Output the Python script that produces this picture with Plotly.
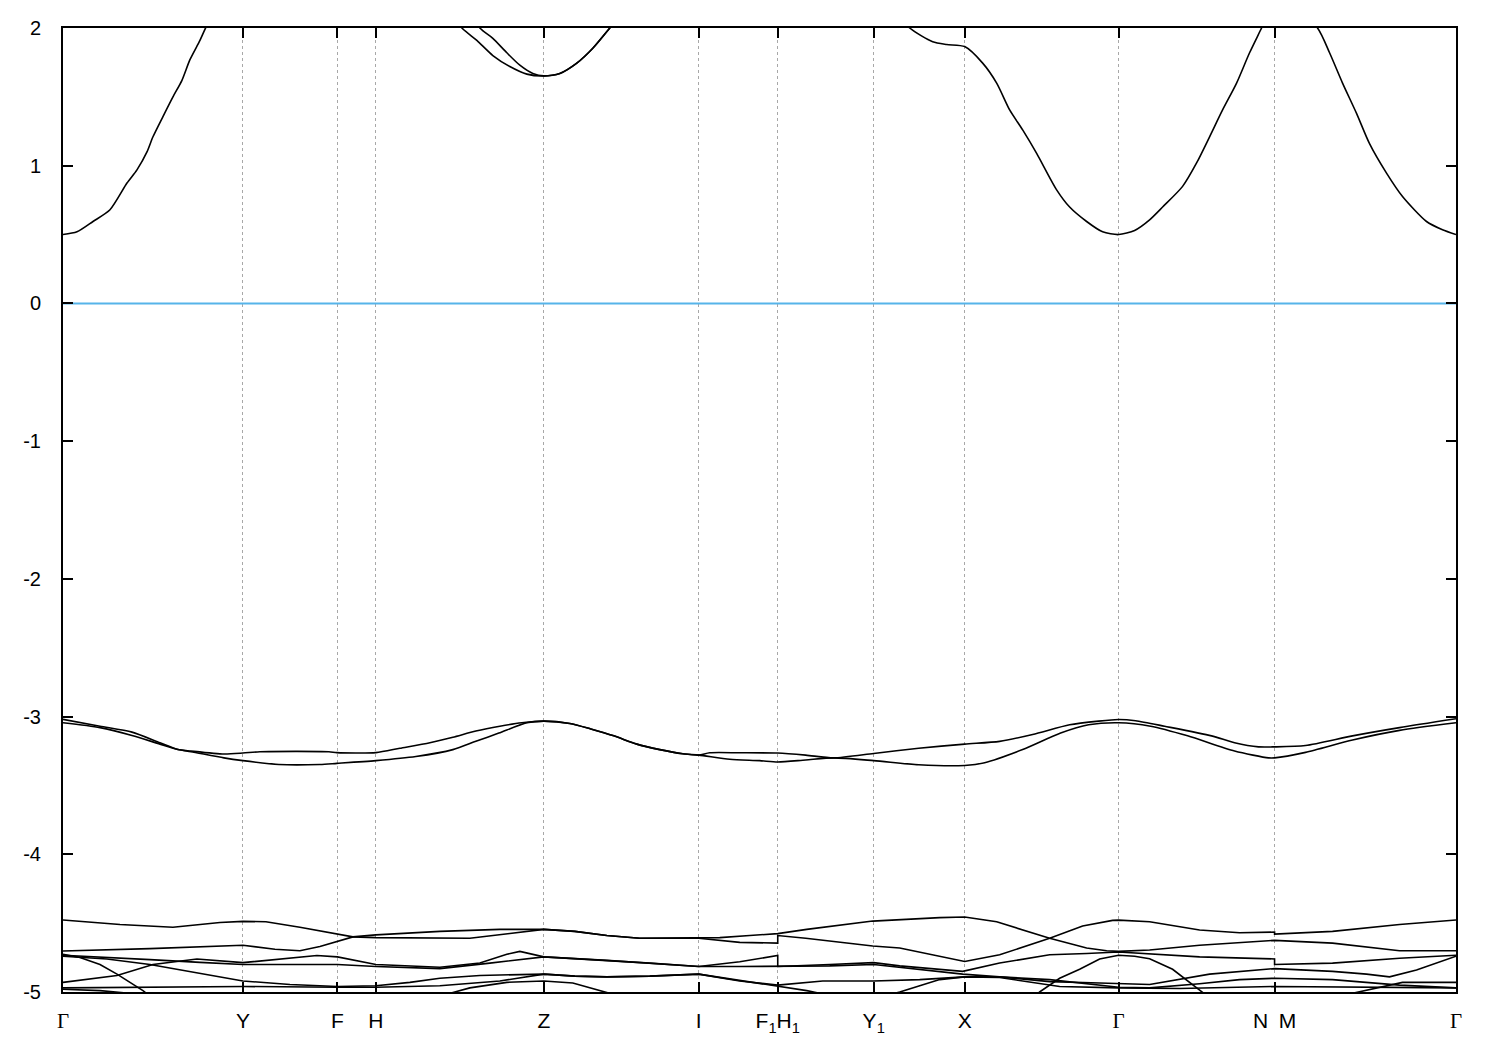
import plotly.graph_objects as go

# ---- high-symmetry path ----
tick_k = [0.0, 0.180, 0.2745, 0.313, 0.481, 0.636, 0.715, 0.811, 0.902, 1.056, 1.212, 1.3935]
GAM = '<span style="font-family:Liberation Serif">Γ</span>'
tick_labels = [GAM, "Y", "F", "H", "Z", "I", "F<sub>1</sub>H<sub>1</sub>", "Y<sub>1</sub>",
               "X", GAM, "N\u2002M", GAM]
y_ticks = [-5, -4, -3, -2, -1, 0, 1, 2]

# ---- Fermi level ----
fermi_k = [0.0, 1.3935]
fermi_e = [0.0, 0.0]

# ---- conduction bands ----
cb1_k = [0.000, 0.014, 0.030, 0.047, 0.064, 0.074, 0.084, 0.090, 0.100, 0.110, 0.119, 0.127, 0.137, 0.142,
         0.160, 0.180, 0.2745, 0.313, 0.360, 0.399, 0.414, 0.430, 0.447, 0.464, 0.481, 0.497, 0.514, 0.530,
         0.547, 0.590, 0.636, 0.715, 0.715, 0.811, 0.847, 0.870, 0.884, 0.902, 0.920, 0.934, 0.947, 0.960,
         0.974, 0.994, 1.007, 1.024, 1.040, 1.056, 1.072, 1.087, 1.100, 1.120, 1.134, 1.147, 1.160, 1.174,
         1.187, 1.199, 1.212, 1.212, 1.255, 1.267, 1.280, 1.294, 1.307, 1.324, 1.340, 1.364, 1.380, 1.3935]
cb1_e = [0.50, 0.52, 0.595, 0.68, 0.874, 0.97, 1.10, 1.21, 1.357, 1.50, 1.62, 1.77, 1.91, 1.99,
         2.25, 2.45, 2.70, 2.65, 2.35, 2.00, 1.91, 1.80, 1.72, 1.665, 1.652, 1.67, 1.745, 1.853,
         2.00, 2.35, 2.60, 2.70, 2.70, 2.30, 2.00, 1.90, 1.88, 1.865, 1.745, 1.60, 1.405, 1.26,
         1.09, 0.825, 0.70, 0.595, 0.52, 0.50, 0.53, 0.607, 0.70, 0.85, 1.02, 1.21, 1.405, 1.60,
         1.82, 2.00, 2.20, 2.30, 2.00, 1.82, 1.60, 1.38, 1.16, 0.946, 0.776, 0.595, 0.535, 0.50]

cb2_k = [0.360, 0.417, 0.430, 0.444, 0.457, 0.470, 0.481, 0.497, 0.514, 0.530, 0.547, 0.600]
cb2_e = [2.60, 2.00, 1.925, 1.82, 1.73, 1.67, 1.652, 1.67, 1.745, 1.853, 2.00, 2.50]

# ---- valence bands near -3 eV ----
vb1_k = [0.000, 0.037, 0.069, 0.097, 0.115, 0.128, 0.161, 0.180, 0.197, 0.266, 0.274, 0.313, 0.337, 0.367,
         0.390, 0.413, 0.437, 0.459, 0.481, 0.507, 0.528, 0.551, 0.574, 0.597, 0.620, 0.636, 0.647, 0.677,
         0.715, 0.743, 0.771, 0.811, 0.856, 0.902, 0.937, 0.970, 1.007, 1.036, 1.056, 1.073, 1.102, 1.149,
         1.172, 1.196, 1.212, 1.243, 1.290, 1.337, 1.3935]
vb1_e = [-3.020, -3.070, -3.113, -3.190, -3.239, -3.250, -3.272, -3.265, -3.255, -3.255, -3.262, -3.262,
         -3.230, -3.190, -3.150, -3.105, -3.070, -3.045, -3.033, -3.050, -3.090, -3.140, -3.200, -3.240,
         -3.270, -3.280, -3.263, -3.263, -3.265, -3.280, -3.300, -3.268, -3.230, -3.200, -3.180, -3.130,
         -3.060, -3.033, -3.021, -3.030, -3.070, -3.140, -3.190, -3.220, -3.220, -3.210, -3.140, -3.080,
         -3.016]

vb2_k = [0.000, 0.037, 0.069, 0.097, 0.115, 0.128, 0.161, 0.180, 0.216, 0.257, 0.274, 0.313, 0.353, 0.390,
         0.413, 0.436, 0.464, 0.481, 0.507, 0.528, 0.551, 0.574, 0.597, 0.620, 0.636, 0.667, 0.697, 0.715,
         0.743, 0.771, 0.811, 0.856, 0.902, 0.922, 0.960, 0.998, 1.026, 1.056, 1.088, 1.125, 1.172, 1.206,
         1.212, 1.243, 1.290, 1.337, 1.3935]
vb2_e = [-3.045, -3.080, -3.137, -3.200, -3.239, -3.255, -3.300, -3.320, -3.348, -3.348, -3.340, -3.320,
         -3.290, -3.240, -3.180, -3.120, -3.045, -3.033, -3.050, -3.090, -3.140, -3.200, -3.240, -3.270,
         -3.280, -3.310, -3.320, -3.330, -3.315, -3.300, -3.320, -3.350, -3.355, -3.335, -3.240, -3.120,
         -3.060, -3.045, -3.070, -3.140, -3.250, -3.300, -3.300, -3.260, -3.170, -3.100, -3.045]

# ---- lower band cluster (-4.4 .. -5 eV) ----
lb1_k = [0.000, 0.057, 0.110, 0.157, 0.180, 0.203, 0.237, 0.274, 0.290, 0.313, 0.377, 0.407, 0.447, 0.481,
         0.512, 0.544, 0.577, 0.636, 0.657, 0.687, 0.715, 0.715, 0.744, 0.810, 0.877, 0.902, 0.934, 0.957,
         0.987, 1.024, 1.044, 1.056, 1.087, 1.137, 1.212, 1.212, 1.270, 1.337, 1.3935]
lb1_e = [-4.477, -4.510, -4.530, -4.495, -4.487, -4.490, -4.530, -4.575, -4.600, -4.605, -4.610, -4.610,
         -4.575, -4.545, -4.560, -4.590, -4.610, -4.610, -4.605, -4.590, -4.580, -4.576, -4.545, -4.485,
         -4.460, -4.455, -4.490, -4.540, -4.610, -4.680, -4.700, -4.705, -4.695, -4.660, -4.625, -4.625,
         -4.645, -4.700, -4.700]

lb2_k = [0.000, 0.087, 0.180, 0.212, 0.237, 0.257, 0.290, 0.313, 0.377, 0.437, 0.481, 0.512, 0.544, 0.577,
         0.636, 0.677, 0.715, 0.715, 0.743, 0.810, 0.837, 0.877, 0.902, 0.937, 0.987, 1.020, 1.050, 1.056,
         1.087, 1.137, 1.177, 1.212, 1.212, 1.270, 1.337, 1.3935]
lb2_e = [-4.702, -4.685, -4.660, -4.690, -4.700, -4.670, -4.600, -4.585, -4.560, -4.545, -4.545, -4.560,
         -4.590, -4.610, -4.610, -4.640, -4.645, -4.590, -4.610, -4.666, -4.680, -4.740, -4.778, -4.730,
         -4.610, -4.520, -4.480, -4.478, -4.490, -4.550, -4.570, -4.565, -4.580, -4.560, -4.510, -4.477]

lb3_k = [0.000, 0.017, 0.037, 0.054, 0.080, 0.092]
lb3_e = [-4.726, -4.750, -4.800, -4.870, -4.990, -5.060]

lb4_k = [0.967, 0.977, 0.997, 1.017, 1.037, 1.056, 1.072, 1.087, 1.110, 1.140, 1.152]
lb4_e = [-5.060, -5.000, -4.900, -4.835, -4.760, -4.733, -4.740, -4.758, -4.835, -5.000, -5.070]

lb5_k = [0.000, 0.027, 0.054, 0.090, 0.134, 0.180, 0.210, 0.254, 0.2745, 0.313, 0.377, 0.417, 0.444, 0.457,
         0.481, 0.544, 0.587, 0.636, 0.677, 0.715, 0.715, 0.767, 0.811, 0.837, 0.900, 0.937, 0.987, 1.024,
         1.056, 1.137, 1.212, 1.212, 1.270, 1.337, 1.3935]
lb5_e = [-4.930, -4.905, -4.880, -4.800, -4.760, -4.787, -4.767, -4.735, -4.745, -4.800, -4.820, -4.790,
         -4.726, -4.705, -4.745, -4.770, -4.790, -4.815, -4.780, -4.735, -4.815, -4.800, -4.787, -4.810,
         -4.850, -4.790, -4.730, -4.720, -4.710, -4.745, -4.760, -4.800, -4.790, -4.755, -4.733]

lb6_k = [0.000, 0.037, 0.087, 0.137, 0.180, 0.237, 0.2745, 0.313, 0.377, 0.427, 0.481, 0.544, 0.587, 0.636,
         0.677, 0.715, 0.715, 0.767, 0.811, 0.837, 0.900, 0.937, 0.987, 1.037, 1.087, 1.147, 1.212, 1.212,
         1.270, 1.304, 1.327, 1.354, 1.3935]
lb6_e = [-4.733, -4.745, -4.765, -4.785, -4.800, -4.800, -4.800, -4.815, -4.830, -4.790, -4.745, -4.770,
         -4.790, -4.815, -4.815, -4.815, -4.815, -4.810, -4.800, -4.820, -4.870, -4.890, -4.925, -4.935,
         -4.945, -4.870, -4.830, -4.830, -4.850, -4.870, -4.890, -4.840, -4.740]

lb7_k = [0.000, 0.044, 0.087, 0.127, 0.160, 0.180, 0.227, 0.2745, 0.313, 0.347, 0.377, 0.417, 0.481, 0.512,
         0.544, 0.587, 0.636, 0.677, 0.715, 0.715, 0.760, 0.811, 0.857, 0.902, 0.937, 0.987, 1.037, 1.056,
         1.087, 1.137, 1.177, 1.212, 1.212, 1.270, 1.337, 1.3935]
lb7_e = [-4.740, -4.760, -4.800, -4.850, -4.890, -4.920, -4.945, -4.960, -4.955, -4.930, -4.900, -4.880,
         -4.870, -4.885, -4.890, -4.885, -4.870, -4.920, -4.950, -4.950, -4.920, -4.920, -4.910, -4.890,
         -4.890, -4.910, -4.950, -4.965, -4.970, -4.940, -4.910, -4.900, -4.900, -4.910, -4.950, -4.970]

lb8_k = [0.000, 0.087, 0.180, 0.2745, 0.313, 0.377, 0.437, 0.481, 0.512, 0.544, 0.587, 0.636, 0.677, 0.715,
         0.715, 0.744, 0.777]
lb8_e = [-4.970, -4.965, -4.960, -4.965, -4.965, -4.955, -4.920, -4.870, -4.885, -4.890, -4.885, -4.870,
         -4.915, -4.960, -4.960, -4.990, -5.040]

lb9_k = [0.377, 0.407, 0.444, 0.481, 0.510, 0.544, 0.557]
lb9_e = [-5.030, -4.970, -4.930, -4.920, -4.935, -5.000, -5.030]

lb10_k = [0.817, 0.837, 0.877, 0.902, 0.937, 0.997, 1.056, 1.117, 1.212, 1.212, 1.287, 1.3935]
lb10_e = [-5.040, -5.000, -4.910, -4.890, -4.895, -4.960, -4.970, -4.975, -4.960, -4.960, -4.965, -4.970]

lb11_k = [0.000, 0.037, 0.097]
lb11_e = [-4.980, -4.990, -5.030]

lb12_k = [1.277, 1.307, 1.340, 1.3935]
lb12_e = [-5.030, -4.980, -4.930, -4.930]

fig = go.Figure()
fig.add_trace(go.Scatter(x=fermi_k, y=fermi_e, mode="lines",
                         line=dict(color="#56B4E9", width=2), hoverinfo="skip"))

smooth_bands = [(cb1_k, cb1_e), (cb2_k, cb2_e), (vb1_k, vb1_e), (vb2_k, vb2_e)]
for bk, be in smooth_bands:
    fig.add_trace(go.Scatter(x=bk, y=be, mode="lines",
                             line=dict(color="black", width=1.6, shape="spline", smoothing=0.7)))
low_bands = [(lb1_k, lb1_e), (lb2_k, lb2_e), (lb3_k, lb3_e), (lb4_k, lb4_e), (lb5_k, lb5_e),
             (lb6_k, lb6_e), (lb7_k, lb7_e), (lb8_k, lb8_e), (lb9_k, lb9_e), (lb10_k, lb10_e),
             (lb11_k, lb11_e), (lb12_k, lb12_e)]
for bk, be in low_bands:
    fig.add_trace(go.Scatter(x=bk, y=be, mode="lines",
                             line=dict(color="black", width=1.6)))

axis_common = dict(showline=True, linewidth=2, linecolor="black", mirror="ticks",
                   ticks="inside", ticklen=10, tickwidth=1.5, tickcolor="black",
                   zeroline=False, automargin=False)

fig.update_xaxes(range=[0, 1.3935], tickmode="array", tickvals=tick_k, ticktext=tick_labels,
                 showgrid=True, gridcolor="#a8a8a8", gridwidth=1, griddash="3px,3px",
                 ticklabelstandoff=9,
                 tickfont=dict(family="Liberation Sans, Arial, sans-serif", size=21, color="black"),
                 **axis_common)
fig.update_yaxes(range=[-5, 2], tickmode="array", tickvals=y_ticks,
                 ticktext=[str(v) for v in y_ticks], showgrid=False,
                 ticklabelstandoff=16,
                 tickfont=dict(family="Liberation Sans, Arial, sans-serif", size=20, color="black"),
                 **axis_common)

fig.update_layout(width=1484, height=1034, margin=dict(l=55, r=36, t=20, b=50),
                  plot_bgcolor="white", paper_bgcolor="white", showlegend=False)

fig.write_html("out.html")
